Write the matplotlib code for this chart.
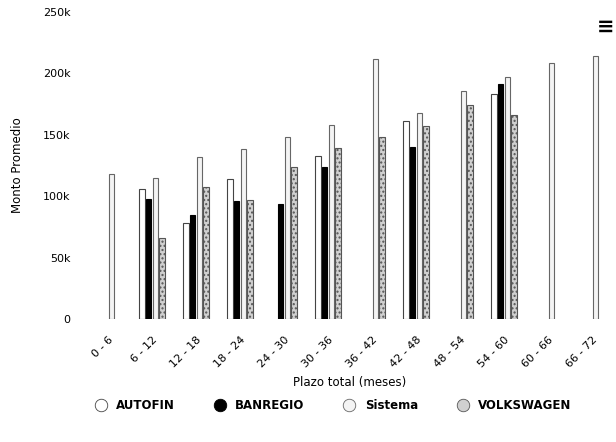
import matplotlib.pyplot as plt
import numpy as np
from matplotlib.lines import Line2D

categories = ['0 - 6', '6 - 12', '12 - 18', '18 - 24', '24 - 30', '30 - 36',
              '36 - 42', '42 - 48', '48 - 54', '54 - 60', '60 - 66', '66 - 72']
nan = np.nan
autofin = [nan, 106000, 78000, 114000, nan, 132700, nan, 161000, nan, 183000, nan, nan]
banregio = [nan, 97500, 85000, 96000, 94000, 123500, nan, 139800, nan, 191000, nan, nan]
sistema = [118000, 114800, 131700, 138400, 148500, 157700, 211500, 168000, 186000, 196800, 208700, 214400]
volkswagen = [nan, 65700, 107700, 97000, 123500, 139000, 148500, 157000, 174000, 166000, nan, nan]

series = [('AUTOFIN', autofin), ('BANREGIO', banregio),
          ('Sistema', sistema), ('VOLKSWAGEN', volkswagen)]
faces = ['white', 'black', '#f4f4f4', '#d0d0d0']
edges = ['#444444', 'black', '#666666', '#555555']
hatches = ['', '', '', '....']

fig = plt.figure(figsize=(6.16, 4.42), dpi=100)
ax = fig.add_axes([86/616, 123/442, 528/616, 307/442])

x = np.arange(len(categories))
slot = 0.15
for j, (name, vals) in enumerate(series):
    ax.bar(x + (j - 1.5) * slot, vals, width=0.12, color=faces[j],
           edgecolor=edges[j], linewidth=0.8, hatch=hatches[j], label=name)

ax.set_xlim(-0.5, len(categories) - 0.5)
ax.set_ylim(0, 250000)
ax.set_yticks([0, 50000, 100000, 150000, 200000, 250000])
ax.set_yticklabels(['0', '50k', '100k', '150k', '200k', '250k'], fontsize=8)
ax.set_xticks(x)
ax.set_xticklabels(categories, rotation=45, ha='right', rotation_mode='anchor', fontsize=8)
ax.tick_params(axis='both', length=0)
ax.tick_params(axis='x', pad=11)
ax.tick_params(axis='y', pad=11)
for s in ax.spines.values():
    s.set_visible(False)

ax.set_xlabel('Plazo total (meses)', fontsize=8.5, labelpad=5)
ax.set_ylabel('Monto Promedio', fontsize=8.5, labelpad=14)

handles = [Line2D([], [], marker='o', linestyle='', markersize=9,
                  markerfacecolor=faces[j], markeredgecolor=edges[j], markeredgewidth=0.6)
           for j in range(4)]
leg = fig.legend(handles, [s[0] for s in series], loc='center', bbox_to_anchor=(0.536, 0.083),
                 ncol=4, frameon=False, handletextpad=0.3, columnspacing=2.8,
                 prop={'size': 8.5, 'weight': 'bold'})

fig.text(0.983, 0.94, '≡', fontsize=15, fontweight='bold', ha='center', va='center')

fig.savefig('out.png', dpi=100)
